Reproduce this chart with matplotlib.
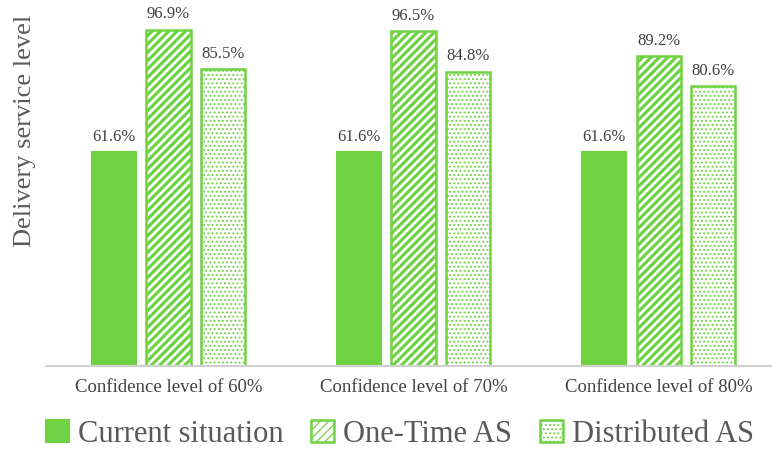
import numpy as np
import matplotlib
matplotlib.use('Agg')
import matplotlib.pyplot as plt

plt.rcParams['font.family'] = ['Liberation Serif', 'DejaVu Serif']

categories = ['Confidence level of 60%', 'Confidence level of 70%', 'Confidence level of 80%']
current = [61.6, 61.6, 61.6]
one_time = [96.9, 96.5, 89.2]
distributed = [85.5, 84.8, 80.6]
series_names = ['Current situation', 'One-Time AS', 'Distributed AS']

green = '#6fd242'
txt = '#404040'

fig = plt.figure(figsize=(7.72, 4.54), dpi=100)
ax = fig.add_axes([46/772, 88/454, 1 - 46/772, 347/454])

x = np.arange(len(categories))
w = 0.18
off = 0.222

b1 = ax.bar(x - off, current, w, color=green, edgecolor=green, linewidth=1.5,
            label=series_names[0])
# hatch width is picked up when each patch is created
plt.rcParams['hatch.linewidth'] = 2.3
b2 = ax.bar(x, one_time, w, color='white', edgecolor=green, hatch='////',
            linewidth=1.8, label=series_names[1])
plt.rcParams['hatch.linewidth'] = 0.9
b3 = ax.bar(x + off, distributed, w, color='white', edgecolor=green, hatch='....',
            linewidth=1.8, label=series_names[2])

for bars, vals in [(b1, current), (b2, one_time), (b3, distributed)]:
    for r, v in zip(bars, vals):
        ax.text(r.get_x() + r.get_width()/2, v + 2.2, f'{v:.1f}%',
                ha='center', va='bottom', fontsize=12, color=txt)

ax.set_ylim(0, 100)
ax.set_xlim(-0.5, 2.463)
ax.set_yticks([])
ax.set_xticks(x)
ax.set_xticklabels(categories, fontsize=13.5, color=txt)
ax.tick_params(axis='x', length=0, pad=9)
for s in ['top', 'right', 'left']:
    ax.spines[s].set_visible(False)
ax.spines['bottom'].set_color('#d0d0d0')
ax.spines['bottom'].set_linewidth(1.5)

fig.text(25/772, 1 - 15/454, 'Delivery service level', rotation=90,
         ha='center', va='top', fontsize=19, color='#595959')

fig.legend(handles=[b1, b2, b3], loc='center', bbox_to_anchor=(400/772, 1 - 434/454),
           ncol=3, frameon=False, fontsize=22, labelcolor='#595959',
           handlelength=0.75, handleheight=0.75, handletextpad=0.3, columnspacing=0.9)

fig.savefig('out.png', dpi=100)
